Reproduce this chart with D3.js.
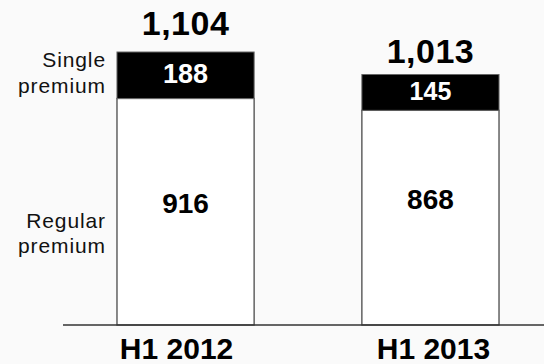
<!DOCTYPE html>
<html><head><meta charset="utf-8">
<script src="https://cdn.jsdelivr.net/npm/d3@7"></script>
<style>
html,body{margin:0;padding:0;background:#fafafa;}
svg{display:block;font-family:"Liberation Sans",Arial,Helvetica,sans-serif;}
</style></head>
<body>
<svg id="chart" width="544" height="364"></svg>
<script>
const categories = ["H1 2012", "H1 2013"];
const regularPremium = [916, 868];
const singlePremium = [188, 145];
const totals = ["1,104", "1,013"];
const seriesNames = [["Single", "premium"], ["Regular", "premium"]];

const svg = d3.select("#chart");
const W = 544;
const baseY = 325;

const x = d3.scaleBand().domain(categories).range([68, 548]).paddingInner(0.44).paddingOuter(0.2);
const y = d3.scaleLinear().domain([0, 1104]).range([baseY, 52]);

const data = categories.map((c, i) => ({i, cat: c, reg: regularPremium[i], sing: singlePremium[i], total: totals[i]}));
const cx = d => x(d.cat) + x.bandwidth() / 2;

const g = svg.append("g");

g.selectAll("rect.reg").data(data).enter().append("rect")
  .attr("class", "reg")
  .attr("x", d => x(d.cat))
  .attr("width", x.bandwidth())
  .attr("y", d => y(d.reg))
  .attr("height", d => y(0) - y(d.reg))
  .attr("fill", "#ffffff")
  .attr("stroke", "#4a4a4a")
  .attr("stroke-width", 1.3);

g.selectAll("rect.sing").data(data).enter().append("rect")
  .attr("class", "sing")
  .attr("x", d => x(d.cat))
  .attr("width", x.bandwidth())
  .attr("y", d => y(d.reg + d.sing))
  .attr("height", d => y(d.reg) - y(d.reg + d.sing))
  .attr("fill", "#000000")
  .attr("stroke", "#666")
  .attr("stroke-width", 1);

svg.append("line")
  .attr("x1", 63).attr("x2", W)
  .attr("y1", baseY).attr("y2", baseY)
  .attr("stroke", "#333").attr("stroke-width", 1.3);

g.selectAll("text.sing").data(data).enter().append("text")
  .attr("x", cx)
  .attr("y", d => d.i === 0 ? 83 : 100)
  .attr("text-anchor", "middle")
  .attr("font-size", d => d.i === 0 ? 27 : 25).attr("font-weight", "bold")
  .attr("fill", "#fff")
  .text(d => d.sing);

g.selectAll("text.reg").data(data).enter().append("text")
  .attr("x", cx)
  .attr("y", d => d.i === 0 ? 213 : 209)
  .attr("text-anchor", "middle")
  .attr("font-size", 28).attr("font-weight", "bold")
  .attr("fill", "#000")
  .text(d => d.reg);

g.selectAll("text.tot").data(data).enter().append("text")
  .attr("x", cx)
  .attr("y", d => d.i === 0 ? 35 : 63)
  .attr("text-anchor", "middle")
  .attr("font-size", 34).attr("font-weight", "bold")
  .attr("letter-spacing", 0.5)
  .attr("fill", "#000")
  .text(d => d.total);

g.selectAll("text.cat").data(data).enter().append("text")
  .attr("x", d => cx(d) + (d.i === 0 ? -9 : 3))
  .attr("y", 359)
  .attr("text-anchor", "middle")
  .attr("font-size", 30).attr("font-weight", "bold")
  .attr("fill", "#000")
  .text(d => d.cat);

const seriesY = [[66.5, 93], [228, 253]];
seriesNames.forEach((lines, k) => {
  lines.forEach((t, j) => {
    svg.append("text")
      .attr("x", 106).attr("y", seriesY[k][j])
      .attr("text-anchor", "end")
      .attr("font-size", 21)
      .attr("letter-spacing", 0.9)
      .attr("fill", "#111")
      .text(t);
  });
});
</script>
</body></html>
